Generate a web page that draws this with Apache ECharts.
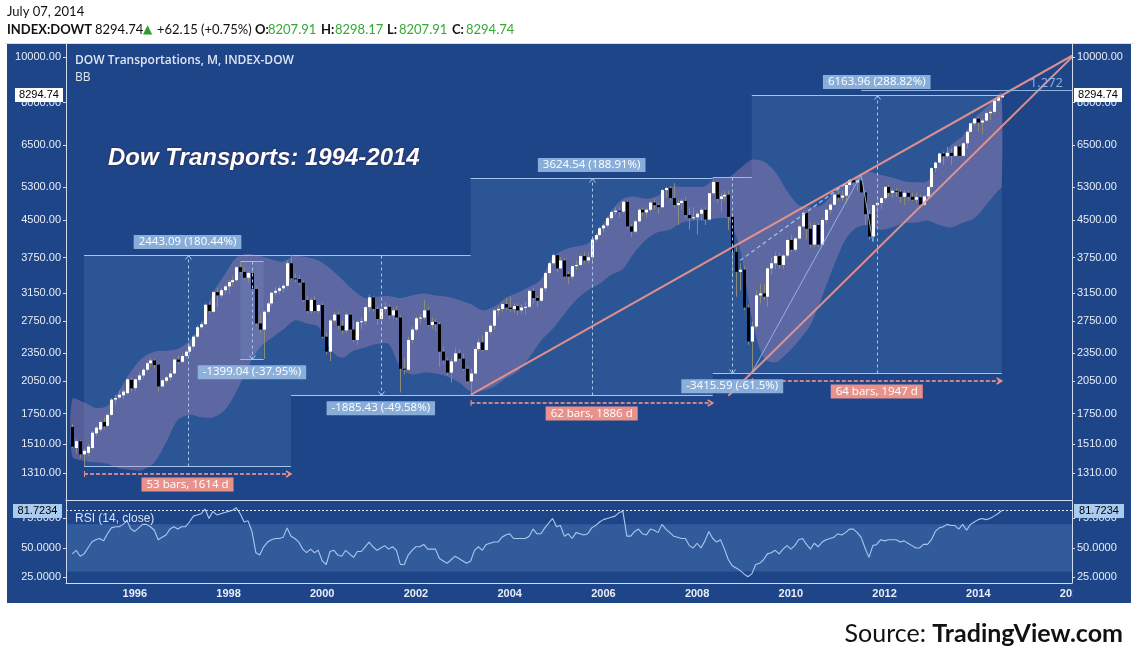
<!DOCTYPE html>
<html>
<head>
<meta charset="utf-8">
<title>Dow Transports: 1994-2014</title>
<script src="https://cdn.jsdelivr.net/npm/echarts@6.0.0/dist/echarts.min.js"></script>
<style>
html,body{margin:0;padding:0;background:#ffffff;}
#wrap{position:relative;width:1138px;height:661px;overflow:hidden;}
#panel{position:absolute;left:7px;top:44px;width:1124px;height:559px;background:#1f4589;}
#chart{position:absolute;left:0;top:0;width:1138px;height:661px;}
</style>
</head>
<body>
<div id="wrap"><div id="panel"></div><div id="chart"></div></div>
<script>
// ---------------- DATA (monthly bars, first bar = Sep 1994) ----------------
const START_YEAR = 1994, START_MONTH = 9;

const OPEN = [
  1640,1480,1530,1435,                                              // 1994 Sep-Dec
  1445,1480,1590,1620,1680,1650,1740,1875,1895,1915,1935,2065,      // 1995
  1985,2065,2110,2170,2240,2270,2225,2000,2055,2090,2130,2280,      // 1996
  2255,2320,2370,2430,2550,2670,2710,2980,2880,3170,3120,3200,      // 1997
  3260,3330,3360,3580,3500,3400,3480,3220,2720,2640,2880,3000,      // 1998
  3160,3190,3230,3270,3650,3390,3380,3320,3050,2890,3050,2890,      // 1999
  2977,2550,2370,2760,2840,2690,2630,2840,2640,2510,2740,2750,      // 2000
  2946,3090,2920,2780,2920,2950,2830,2900,2800,2180,2170,2510,      // 2001
  2640,2790,2800,2900,2700,2740,2710,2370,2270,2140,2260,2350,      // 2002
  2290,2180,2050,2130,2400,2480,2390,2610,2690,2900,2920,2990,      // 2003
  2940,2920,2960,2900,2940,2950,3190,3080,3040,3230,3480,3650,      // 2004
  3798,3560,3700,3460,3420,3600,3620,3780,3700,3760,4100,4190,      // 2005
  4330,4390,4550,4690,4720,4700,4930,4370,4260,4480,4740,4680,      // 2006
  4740,4910,4850,4800,5220,5270,5020,4850,4900,4950,4620,4550,      // 2007
  4570,4650,4740,4520,5140,5430,5000,5060,5100,4580,3860,3500,      // 2008
  3537,2940,2490,2680,3120,3150,3100,3560,3650,3780,3620,3790,      // 2009
  4090,3900,4120,4370,4670,4320,4000,4400,4000,4510,4740,4860,      // 2010
  5106,5030,5080,5350,5480,5420,5470,5160,4640,4160,4850,4900,      // 2011
  5019,5300,5150,5200,5180,5050,5150,5050,4980,5040,4860,5060,      // 2012
  5300,5810,5970,6240,6160,6260,6170,6460,6170,6560,6940,7230,      // 2013
  7400,7260,7330,7600,7650,8080,8207.91                             // 2014 Jan-Jul
];
const HIGH = [
  1665,1545,1540,1475,
  1510,1610,1650,1695,1720,1755,1890,1920,1960,1970,2080,2090,
  2080,2140,2190,2260,2300,2290,2240,2080,2110,2160,2300,2330,
  2350,2390,2450,2570,2700,2740,3000,3020,3190,3230,3230,3290,
  3360,3420,3600,3686,3580,3500,3560,3260,2850,2900,3030,3180,
  3250,3270,3300,3700,3803,3470,3450,3350,3120,3080,3110,3000,
  3010,2600,2780,2880,2890,2760,2870,2860,2760,2760,2800,2960,
  3130,3110,2960,2960,3020,2990,2940,2960,2830,2300,2550,2680,
  2820,2850,3050,2960,2800,2780,2740,2430,2300,2290,2420,2400,
  2350,2200,2180,2420,2520,2560,2630,2710,2910,2960,3020,3080,
  3100,3000,3000,2990,3020,3210,3240,3110,3250,3500,3680,3830,
  3810,3760,3740,3500,3620,3700,3820,3850,3850,4120,4220,4360,
  4420,4580,4720,4800,4800,4960,4950,4420,4520,4780,4800,4780,
  4950,5000,4900,5240,5300,5320,5400,4980,5000,5050,4800,4800,
  4700,4800,4800,5150,5554,5450,5150,5200,5200,4600,3950,3650,
  3600,2980,2750,3200,3300,3300,3580,3750,3850,3850,3820,4120,
  4200,4150,4400,4720,4700,4450,4450,4450,4550,4760,4900,5120,
  5200,5200,5370,5500,5520,5550,5627,5200,4750,4870,4950,5050,
  5320,5350,5250,5270,5230,5200,5200,5150,5150,5100,5100,5320,
  5830,6000,6260,6300,6450,6400,6500,6500,6600,6960,7250,7420,
  7450,7400,7620,7700,8100,8240,8298.17
];
const LOW = [
  1480,1440,1410,1354,
  1420,1470,1570,1600,1620,1640,1730,1830,1880,1880,1920,1950,
  1960,2040,2080,2150,2200,2180,1950,1990,2030,2060,2120,2230,
  2240,2300,2330,2400,2530,2650,2700,2850,2870,2950,3080,3150,
  3140,3270,3340,3460,3360,3330,3200,2680,2600,2287,2850,2960,
  3120,3140,3170,3250,3370,3330,3280,3020,2860,2850,2870,2850,
  2530,2340,2263,2720,2640,2580,2600,2620,2480,2450,2640,2700,
  2880,2880,2700,2720,2880,2780,2780,2760,1942,2120,2160,2470,
  2610,2720,2770,2680,2650,2620,2200,2230,2110,2040,2240,2270,
  2160,2030,1918,2120,2370,2370,2380,2580,2640,2830,2880,2900,
  2880,2860,2830,2850,2840,2930,3000,2950,3020,3180,3450,3620,
  3500,3540,3400,3300,3380,3540,3600,3650,3650,3700,4050,4150,
  4250,4350,4500,4620,4560,4650,4300,4150,4230,4450,4600,4560,
  4700,4750,4650,4780,5030,4950,4800,4400,4750,4550,4300,4500,
  4200,4500,4400,4500,5100,4900,4700,4950,4300,3400,3100,3200,
  2900,2450,2139,2650,3000,3050,2950,3450,3550,3550,3550,3750,
  3850,3850,4100,4350,4100,3950,3950,3950,3980,4450,4650,4840,
  4950,4950,4900,5250,5300,5200,5150,4400,4100,4055,4550,4750,
  4980,5050,5030,5050,4900,4850,4950,4950,4900,4800,4820,5040,
  5280,5700,5950,5900,6100,5900,6150,6150,6150,6400,6900,7150,
  6950,6850,7300,7350,7600,8000,8207.91
];
const CLOSE = [
  1490,1530,1435,1460,
  1490,1595,1635,1680,1645,1740,1875,1890,1920,1950,2070,1981,
  2070,2110,2170,2240,2270,2220,2000,2060,2090,2130,2280,2255,
  2320,2370,2430,2550,2670,2710,2980,2890,3170,3120,3200,3260,
  3330,3360,3580,3500,3400,3480,3220,2720,2640,2880,3000,3160,
  3190,3230,3270,3650,3390,3380,3320,3050,2890,3050,2890,2977,
  2550,2370,2760,2840,2690,2630,2840,2640,2510,2740,2750,2946,
  3090,2920,2780,2920,2950,2830,2900,2800,2180,2170,2510,2640,
  2790,2800,2900,2700,2740,2710,2370,2270,2140,2260,2350,2290,
  2180,2050,2130,2400,2480,2390,2610,2690,2900,2920,2990,2940,
  2920,2960,2900,2940,2950,3190,3080,3040,3230,3480,3650,3798,
  3560,3700,3420,3420,3600,3620,3780,3700,3760,4100,4190,4330,
  4390,4550,4690,4720,4700,4930,4370,4260,4480,4740,4680,4740,
  4910,4850,4800,5220,5270,5020,4850,4900,4950,4620,4550,4570,
  4650,4740,4520,5140,5430,5000,5060,5100,4580,3860,3500,3537,
  2940,2490,2680,3120,3150,3100,3560,3650,3780,3620,3790,4090,
  3900,4120,4370,4670,4320,4000,4400,4000,4510,4740,4860,5106,
  5030,5080,5350,5480,5420,5470,5160,4640,4160,4850,4900,5019,
  5300,5150,5200,5180,5050,5150,5050,4980,5040,4860,5060,5300,
  5810,5970,6240,6160,6260,6170,6460,6170,6560,6940,7230,7400,
  7260,7330,7600,7650,8080,8230,8294.74
];

// Bollinger band (20, 2) at every third bar
const BB_BARS = [0,3,6,9,12,15,18,21,24,27,30,33,36,39,42,45,48,51,54,57,60,63,66,69,72,75,78,81,84,87,
  90,93,96,99,102,105,108,111,114,117,120,123,126,129,132,135,138,141,144,147,150,153,156,159,162,165,168,171,174,177,
  180,183,186,189,192,195,198,201,204,207,210,213,216,219,222,225,228,231,234,237,238];
const BB_UPPER = [1880,1850,1800,1820,1960,2150,2300,2370,2380,2400,
  2500,2700,3150,3450,3750,3820,3780,3720,3680,3790,
  3760,3700,3560,3380,3200,3080,3100,3110,3080,3120,
  3150,3120,3100,3050,2990,2900,2950,3080,3160,3250,
  3370,3760,3900,3960,4020,4300,4700,5000,5060,5000,
  5080,5300,5300,5300,5320,5550,5560,5800,6050,6000,
  5700,5200,4850,4800,4850,5150,5350,5600,5700,5620,
  5550,5450,5420,5450,6000,6500,6800,7400,7800,8300,8420];
const BB_LOWER = [1420,1390,1380,1370,1340,1330,1330,1380,1520,1700,
  1740,1720,1720,1780,1950,2200,2420,2530,2640,2760,
  2720,2680,2400,2300,2380,2420,2460,2460,2200,2120,
  2140,2130,2100,2040,1950,1960,2000,2080,2150,2300,
  2500,2650,2850,3050,3200,3300,3450,3550,3850,4100,
  4250,4300,4450,4500,4500,4550,4520,3900,2800,2300,
  2250,2350,2500,2700,3100,3600,4100,4350,4400,4300,
  4350,4450,4450,4500,4400,4350,4450,4550,4850,5200,5300];

// RSI (14, close), one value per bar
const RSI = [
  45,48,43,45,50,55,57,58,56,62, 67,68,68,70,73,66,64,67,70,70,
  68,65,57,59,61,66,68,66,68,68, 72,77,78,79,83,75,81,78,79,80,
  81,82,84,79,72,73,64,46,44,51, 55,57,58,58,59,67,60,58,55,49,
  46,49,46,48,39,36,47,48,44,43, 48,45,42,47,47,51,55,51,48,50,
  52,49,51,48,36,36,44,48,51,51, 53,49,49,49,41,39,37,40,43,41,
  39,37,39,48,51,48,53,54,55,55, 59,61,62,58,58,58,58,60,66,62,
  62,67,71,75,68,69,60,62,58,63, 62,61,62,67,69,72,74,75,76,77,
  80,81,60,60,64,66,62,61,66,65, 63,70,66,63,60,59,58,58,52,50,
  54,50,56,64,58,55,57,49,40,35, 33,31,28,25.6,28,36,37,40,45,46,
  48,45,49,52,49,52,57,58,53,49, 54,51,55,57,58,59,62,61,63,66,
  66,63,59,50,42,52,53,57,56,57, 57,57,55,56,54,52,50,50,53,53,
  57,64,67,68,70,69,69,66,70,65, 70,72,74,75,74,75,77,79,81.7234
];

const PRICE_TICKS = [10000, 8000, 6500, 5300, 4500, 3750, 3150, 2750, 2350, 2050, 1750, 1510, 1310];
const RSI_TICKS = [75, 50, 25];
const YEAR_TICKS = [1996, 1998, 2000, 2002, 2004, 2006, 2008, 2010, 2012, 2014, 2016];
const PRICE_MIN = 1148, PRICE_MAX = 10656;
const RSI_MIN = 20.3, RSI_MAX = 89.8;
const X_MIN = 1994.532, X_MAX = 2016.0;
const LAST_PRICE = 8294.74, LAST_RSI = 81.7234;

// measurement tool boxes (date range, price range, texts)
const MEASURES = [
  {from:'1994-12', to:'1999-05', lo:1354, hi:3797, dir: 1, text:'2443.09 (180.44%)', bars:'53 bars, 1614 d'},
  {from:'1999-05', to:'2003-03', lo:1918, hi:3803, dir:-1, text:'-1885.43 (-49.58%)'},
  {from:'2003-03', to:'2008-05', lo:1918, hi:5543, dir: 1, text:'3624.54 (188.91%)', bars:'62 bars, 1886 d'},
  {from:'2008-05', to:'2009-03', lo:2139, hi:5554, dir:-1, text:'-3415.59 (-61.5%)'},
  {from:'2009-03', to:'2014-07', lo:2134, hi:8298, dir: 1, text:'6163.96 (288.82%)', bars:'64 bars, 1947 d'},
  {from:'1998-04', to:'1998-10', lo:2287, hi:3686, dir:-1, text:'-1399.04 (-37.95%)'}
];
// trend lines: through two anchors, drawn from 'start' to the right edge
const TRENDS = [
  {a:['2003-03',1918], b:['2011-07',5627], start:'2003-03'},
  {a:['2009-03',2139], b:['2012-10',4800], start:'2008-09'}
];
const FIB_POINTS = [['2009-03',2139],['2011-07',5627],['2011-10',4055]];
const FIB_LEVEL = {from:'2011-07', value:8492, label:'1.272'};
const DASHED_LINE = [['2008-12',3700],['2011-05',5536]];

// ---------------- helpers ----------------
const L10 = Math.log10;
function barX(i){ return START_YEAR + (START_MONTH - 1 + i) / 12; }
function ym(s){ const p = s.split('-').map(Number); return p[0] + (p[1] - 1) / 12; }
function nearestTick(v){
  return PRICE_TICKS.reduce((a, b) => Math.abs(L10(b) - v) < Math.abs(L10(a) - v) ? b : a);
}

const PANEL = '#1f4589';
const AX_LINE = '#d3dcec';
const AX_TXT = '#e8edf6';
const AX_FONT = '"Liberation Sans", Arial, sans-serif';
const LBL_FONT = '11.5px "Open Sans", "Liberation Sans", sans-serif';
const SALMON = '#e9928c';
const LIGHTBLUE = '#a9c8ee';

const candleData = OPEN.map((o, i) => [barX(i), L10(o), L10(CLOSE[i]), L10(LOW[i]), L10(HIGH[i])]);
const bbData = BB_BARS.map((b, k) => [barX(b), L10(BB_LOWER[k]), L10(BB_UPPER[k])]);
const rsiData = RSI.map((v, i) => [barX(i), v]);
const measureData = MEASURES.map(m => [ym(m.from), L10(m.lo), ym(m.to), L10(m.hi)]);

function renderCandle(params, api){
  const x = api.value(0);
  const o = api.value(1), c = api.value(2), l = api.value(3), h = api.value(4);
  const pO = api.coord([x, o]), pC = api.coord([x, c]), pL = api.coord([x, l]), pH = api.coord([x, h]);
  const cx = Math.round(pO[0]) + 0.5;
  const up = c >= o;
  const top = Math.min(pO[1], pC[1]), bot = Math.max(pO[1], pC[1]);
  return {type:'group', children:[
    {type:'line', shape:{x1:cx, y1:pH[1], x2:cx, y2:pL[1]}, style:{stroke:'#8b8c79', lineWidth:1}},
    {type:'rect', shape:{x:cx - 1.5, y:top, width:3, height:Math.max(1, bot - top)},
     style:{fill: up ? '#ffffff' : '#000000'}}
  ]};
}

// Bollinger band as one filled polygon through the band samples
function renderBand(params, api){
  if (params.dataIndex !== 0) return null;
  const upper = bbData.map(d => api.coord([d[0], d[2]]));
  const lower = bbData.map(d => api.coord([d[0], d[1]])).reverse();
  return {type:'group', children:[
    {type:'polyline', shape:{points:upper, smooth:0.35}, style:{stroke:null, fill:null}},
    {type:'polygon', shape:{points:upper.concat(lower), smooth:0.3}, style:{fill:'rgba(200,150,192,0.32)'}}
  ]};
}

function boxGeom(api){
  const a = api.coord([api.value(0), api.value(3)]);
  const b = api.coord([api.value(2), api.value(1)]);
  return {x1:a[0], x2:b[0], yT:Math.round(a[1]) + 0.5, yB:Math.round(b[1]) + 0.5};
}

function renderBox(params, api){
  const g = boxGeom(api);
  return {type:'group', children:[
    {type:'rect', shape:{x:g.x1, y:g.yT, width:g.x2 - g.x1, height:g.yB - g.yT}, style:{fill:'rgba(130,190,232,0.13)'}},
    {type:'line', shape:{x1:g.x1, y1:g.yT, x2:g.x2, y2:g.yT}, style:{stroke:'#a3c5ec', lineWidth:1}},
    {type:'line', shape:{x1:g.x1, y1:g.yB, x2:g.x2, y2:g.yB}, style:{stroke:'#a3c5ec', lineWidth:1}}
  ]};
}

function renderMeasureLabels(params, api){
  const m = MEASURES[params.dataIndex];
  const g = boxGeom(api);
  const xm = (g.x1 + g.x2) / 2, xr = Math.round(xm) + 0.5;
  const up = m.dir > 0;
  const yS = up ? g.yB : g.yT, yE = up ? g.yT : g.yB;
  const d = up ? 1 : -1;
  const kids = [
    {type:'line', shape:{x1:xr, y1:yS, x2:xr, y2:yE}, style:{stroke:LIGHTBLUE, lineWidth:1, lineDash:[3,3]}},
    {type:'polyline', shape:{points:[[xr - 3, yE + 4 * d], [xr, yE], [xr + 3, yE + 4 * d]]}, style:{stroke:LIGHTBLUE, lineWidth:1, fill:null}},
    {type:'text', x:xm, y: up ? g.yT - 13.5 : g.yB + 12.7, z2:10,
     style:{text:m.text, fill:'#ffffff', font:LBL_FONT, align:'center', verticalAlign:'middle',
            backgroundColor:'rgba(146,182,224,0.92)', padding:[1,5,1,5], lineHeight:12}}
  ];
  if (m.bars){
    const ay = g.yB + 7.5;
    kids.push({type:'line', shape:{x1:g.x1, y1:ay, x2:g.x2, y2:ay}, style:{stroke:SALMON, lineWidth:2, lineDash:[4,2], opacity:0.85}});
    kids.push({type:'line', shape:{x1:g.x1 + 0.5, y1:ay - 3, x2:g.x1 + 0.5, y2:ay + 3}, style:{stroke:SALMON, lineWidth:1}});
    kids.push({type:'polyline', shape:{points:[[g.x2 - 5, ay - 3], [g.x2, ay], [g.x2 - 5, ay + 3]]}, style:{stroke:SALMON, lineWidth:1.5, fill:null}});
    kids.push({type:'text', x:xm, y:ay + 10.5, z2:10,
      style:{text:m.bars, fill:'#ffffff', font:LBL_FONT, align:'center', verticalAlign:'middle',
             backgroundColor:'#e9928c', padding:[1,5,1,5], lineHeight:12}});
  }
  return {type:'group', children:kids};
}

function trendValueAt(t, x){
  const xa = ym(t.a[0]), xb = ym(t.b[0]);
  const la = L10(t.a[1]), lb = L10(t.b[1]);
  return la + (lb - la) * (x - xa) / (xb - xa);
}
const trendData = TRENDS.map(t => [ym(t.start), trendValueAt(t, ym(t.start))]);
function renderTrend(params, api){
  const t = TRENDS[params.dataIndex];
  const xs = ym(t.start), xe = X_MAX + 1;
  const p1 = api.coord([xs, trendValueAt(t, xs)]);
  const p2 = api.coord([xe, trendValueAt(t, xe)]);
  return {type:'line', shape:{x1:p1[0], y1:p1[1], x2:p2[0], y2:p2[1]},
          style:{stroke:SALMON, lineWidth:2, opacity:0.95}};
}

const fibData = [[ym(FIB_POINTS[0][0]), L10(FIB_POINTS[0][1])]];
function renderFib(params, api){
  const pts = FIB_POINTS.map(p => api.coord([ym(p[0]), L10(p[1])]));
  const l1 = api.coord([ym(FIB_LEVEL.from), L10(FIB_LEVEL.value)]);
  const l2 = api.coord([X_MAX, L10(FIB_LEVEL.value)]);
  const d1 = api.coord([ym(DASHED_LINE[0][0]), L10(DASHED_LINE[0][1])]);
  const d2 = api.coord([ym(DASHED_LINE[1][0]), L10(DASHED_LINE[1][1])]);
  const ly = Math.round(l1[1]) + 0.5;
  return {type:'group', children:[
    {type:'polyline', shape:{points:pts}, style:{stroke:'#8fb4e2', lineWidth:1, fill:null}},
    {type:'line', shape:{x1:l1[0], y1:ly, x2:l2[0], y2:ly}, style:{stroke:'#8fb4e2', lineWidth:1}},
    {type:'line', shape:{x1:d1[0], y1:d1[1], x2:d2[0], y2:d2[1]}, style:{stroke:'#a7c6ec', lineWidth:1.2, lineDash:[4,3]}},
    {type:'text', x:l2[0] - 9, y:ly - 1, style:{text:FIB_LEVEL.label, fill:'#8fb4e2', font:'13px "Open Sans", sans-serif', align:'right', verticalAlign:'bottom'}}
  ]};
}

function priceAxis(pos){
  const vals = PRICE_TICKS.map(L10);
  return {type:'value', gridIndex:0, position:pos, min:L10(PRICE_MIN), max:L10(PRICE_MAX),
    axisLine:{show:true, onZero:false, lineStyle:{color:AX_LINE, width:1}},
    axisTick:{show:true, length:3, customValues:vals, lineStyle:{color:AX_LINE}},
    axisLabel:{show:true, customValues:vals, margin:5, color:AX_TXT, fontSize:11, fontFamily:AX_FONT,
      formatter: v => nearestTick(v).toFixed(2)},
    splitLine:{show:false}};
}
function rsiAxis(pos){
  return {type:'value', gridIndex:1, position:pos, min:RSI_MIN, max:RSI_MAX,
    axisLine:{show:true, onZero:false, lineStyle:{color:AX_LINE, width:1}},
    axisTick:{show:true, length:3, customValues:RSI_TICKS, lineStyle:{color:AX_LINE}},
    axisLabel:{show:true, customValues:RSI_TICKS, margin:5, color:AX_TXT, fontSize:11, fontFamily:AX_FONT,
      formatter: v => Number(v).toFixed(4)},
    splitLine:{show:false}};
}

const chart = echarts.init(document.getElementById('chart'), null, {renderer:'canvas'});
chart.setOption({
  backgroundColor:'transparent',
  animation:false,
  grid:[
    {left:66, right:66, top:44, height:456},
    {left:66, right:66, top:501, height:82}
  ],
  xAxis:[
    {type:'value', gridIndex:0, min:X_MIN, max:X_MAX,
     axisLine:{show:true, onZero:false, lineStyle:{color:AX_LINE}}, axisTick:{show:false},
     axisLabel:{show:false}, splitLine:{show:false}},
    {type:'value', gridIndex:1, min:X_MIN, max:X_MAX,
     axisLine:{show:true, onZero:false, lineStyle:{color:AX_LINE}}, axisTick:{show:false},
     axisLabel:{show:true, customValues:YEAR_TICKS, showMinLabel:true, showMaxLabel:true, margin:5,
       color:AX_TXT, fontSize:11, fontWeight:'bold', fontFamily:AX_FONT, formatter: v => String(Math.round(v))},
     splitLine:{show:false}}
  ],
  yAxis:[priceAxis('left'), priceAxis('right'), rsiAxis('left'), rsiAxis('right')],
  series:[
    {type:'custom', name:'boxes', xAxisIndex:0, yAxisIndex:0, z:1, silent:true,
     data:measureData, encode:{x:[0,2], y:[1,3]}, renderItem:renderBox},
    {type:'custom', name:'BB', xAxisIndex:0, yAxisIndex:0, z:2, silent:true, clip:true,
     data:bbData, encode:{x:0, y:[1,2]}, renderItem:renderBand},
    {type:'custom', name:'DOWT', xAxisIndex:0, yAxisIndex:0, z:3, silent:true,
     data:candleData, encode:{x:0, y:[1,2,3,4]}, renderItem:renderCandle},
    {type:'custom', name:'trend', xAxisIndex:0, yAxisIndex:0, z:4, silent:true, clip:true,
     data:trendData, encode:{x:0, y:1}, renderItem:renderTrend},
    {type:'custom', name:'fib', xAxisIndex:0, yAxisIndex:0, z:4, silent:true, clip:true,
     data:fibData, encode:{x:0, y:1}, renderItem:renderFib},
    {type:'custom', name:'measureLabels', xAxisIndex:0, yAxisIndex:0, z:6, silent:true,
     data:measureData, encode:{x:[0,2], y:[1,3]}, renderItem:renderMeasureLabels},
    {type:'line', name:'RSI', xAxisIndex:1, yAxisIndex:2, z:3, symbol:'none', silent:true,
     data:rsiData, lineStyle:{color:'#abc7ec', width:1.1},
     markArea:{silent:true, itemStyle:{color:'rgba(150,200,255,0.17)'},
       data:[[{xAxis:X_MIN, yAxis:30}, {xAxis:X_MAX, yAxis:70}]]},
     markLine:{silent:true, symbol:'none', label:{show:false}, animation:false,
       lineStyle:{color:'#e6edf8', type:[2,2], width:1}, data:[{yAxis:LAST_RSI}]}}
  ]
});

// overlay texts and value tags
const yP = chart.convertToPixel({yAxisIndex:0}, L10(LAST_PRICE));
const yR = chart.convertToPixel({yAxisIndex:2}, LAST_RSI);
const HDR = 'Lato, "Open Sans", "DejaVu Sans", sans-serif';
const GREEN = '#35a835';
function tag(x, y, w, text, bg){
  return [
    {type:'rect', z:100, shape:{x:x, y:Math.round(y) - 7, width:w, height:14}, style:{fill:bg}},
    {type:'text', z:101, x:x + w / 2, y:Math.round(y), style:{text:text, fill:'#000', font:'11px ' + AX_FONT, align:'center', verticalAlign:'middle'}}
  ];
}
chart.setOption({graphic:[
  {type:'line', shape:{x1:5, y1:43.5, x2:1133, y2:43.5}, style:{stroke:'#dedede', lineWidth:1}},
  {type:'text', x:7, y:12, style:{text:'July 07, 2014', font:'13px ' + HDR, fill:'#111', verticalAlign:'middle'}},
  {type:'text', x:7, y:30, style:{text:'INDEX:DOWT', font:'bold 13px ' + HDR, fill:'#111', verticalAlign:'middle'}},
  {type:'text', x:95, y:30, style:{text:'8294.74', font:'13px ' + HDR, fill:'#111', verticalAlign:'middle'}},
  {type:'text', x:143, y:30, style:{text:'\u25B2', font:'12px "DejaVu Sans", sans-serif', fill:'#2e9e2e', verticalAlign:'middle'}},
  {type:'text', x:157, y:30, style:{text:'+62.15 (+0.75%)', font:'13px ' + HDR, fill:'#111', verticalAlign:'middle'}},
  {type:'text', x:255, y:30, style:{text:'O:', font:'bold 13px ' + HDR, fill:'#111', verticalAlign:'middle'}},
  {type:'text', x:268, y:30, style:{text:'8207.91', font:'13px ' + HDR, fill:GREEN, verticalAlign:'middle'}},
  {type:'text', x:321, y:30, style:{text:'H:', font:'bold 13px ' + HDR, fill:'#111', verticalAlign:'middle'}},
  {type:'text', x:335, y:30, style:{text:'8298.17', font:'13px ' + HDR, fill:GREEN, verticalAlign:'middle'}},
  {type:'text', x:387, y:30, style:{text:'L:', font:'bold 13px ' + HDR, fill:'#111', verticalAlign:'middle'}},
  {type:'text', x:399, y:30, style:{text:'8207.91', font:'13px ' + HDR, fill:GREEN, verticalAlign:'middle'}},
  {type:'text', x:452, y:30, style:{text:'C:', font:'bold 13px ' + HDR, fill:'#111', verticalAlign:'middle'}},
  {type:'text', x:466, y:30, style:{text:'8294.74', font:'13px ' + HDR, fill:GREEN, verticalAlign:'middle'}},
  {type:'text', x:75, y:61, z:50, style:{text:'DOW Transportations, M, INDEX-DOW', font:'600 12px "Open Sans", sans-serif', fill:'#dfe6f2', verticalAlign:'middle'}},
  {type:'text', x:75, y:78, z:50, style:{text:'BB', font:'12px "Open Sans", sans-serif', fill:'#dfe6f2', verticalAlign:'middle'}},
  {type:'text', x:108, y:158, z:50, style:{text:'Dow Transports: 1994-2014', font:'italic bold 24px "Liberation Sans", Arial, sans-serif',
     fill:'#ffffff', verticalAlign:'middle', textShadowColor:'rgba(60,0,20,0.7)', textShadowBlur:2}},
  {type:'text', x:75, y:519, z:50, style:{text:'RSI (14, close)', font:'12px "Liberation Sans", Arial, sans-serif', fill:'#d8e0ee', verticalAlign:'middle'}},
  {type:'rect', z:100, shape:{x:1072.5, y:585, width:58.5, height:17}, style:{fill:PANEL}},
  ...tag(15, yP, 48, '8294.74', '#ffffff'),
  ...tag(1074, yP, 48, '8294.74', '#ffffff'),
  ...tag(13, yR, 49, '81.7234', '#a9cbef'),
  ...tag(1074, yR, 50, '81.7234', '#a9cbef'),
  {type:'text', x:1123, y:634, style:{text:'{a|Source: }{b|TradingView.com}', align:'right', verticalAlign:'middle',
     rich:{a:{font:'25px ' + HDR, fill:'#111'}, b:{font:'bold 25px ' + HDR, fill:'#111'}}}}
]});
</script>
</body>
</html>
